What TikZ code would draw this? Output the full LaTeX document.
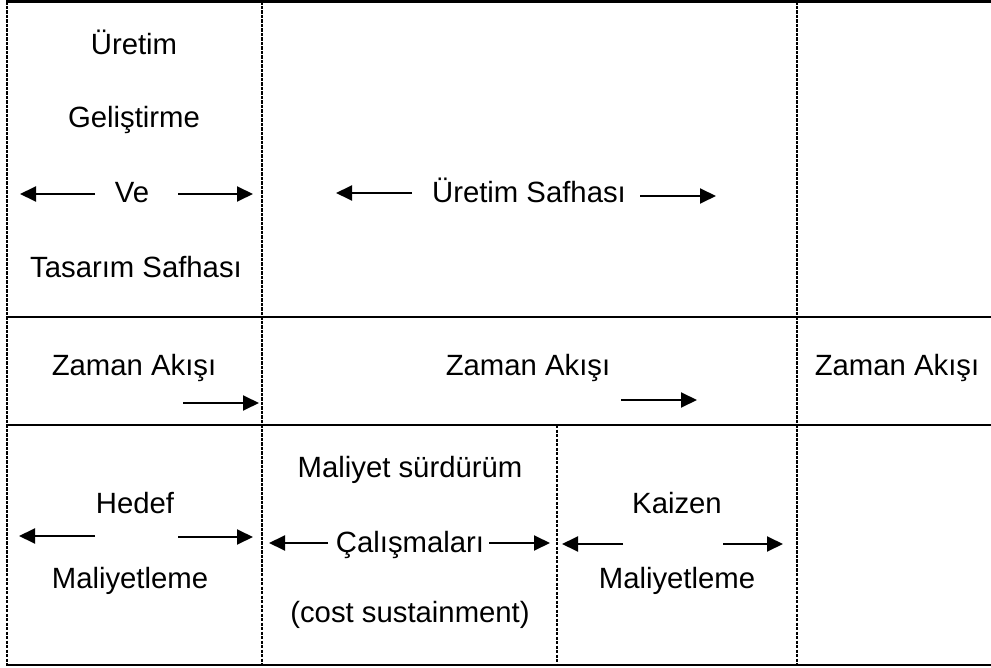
\documentclass[tikz,border=0pt]{standalone}
\usepackage{fontspec}
\setmainfont{Liberation Sans}
\usetikzlibrary{arrows.meta}

\tikzset{
  lbl/.style={anchor=base, inner sep=0pt, font=\fontsize{29.3}{35}\selectfont},
  rule/.style={line width=2.5pt, line cap=rect},
  dashrule/.style={line width=1.7pt, dash pattern=on 3.4pt off 1.1pt},
  dashrulethick/.style={line width=2.3pt, dash pattern=on 3.4pt off 1.1pt},
  arr/.style={line width=1.9pt, -{Triangle[length=16pt,width=15pt]}}
}

\begin{document}
\begin{tikzpicture}[x=1pt,y=-1pt]
\useasboundingbox (0,0) rectangle (991,668);

% grid corners
\coordinate (tl) at (7,1.5);   \coordinate (tr) at (991,1.5);
\coordinate (m1l) at (7,317);  \coordinate (m1r) at (991,317);
\coordinate (m2l) at (7,425);  \coordinate (m2r) at (991,425);
\coordinate (bl) at (7,665);   \coordinate (br) at (991,665);
\coordinate (c1t) at (262,1.5); \coordinate (c1b) at (262,665);
\coordinate (c3t) at (797,1.5); \coordinate (c3b) at (797,665);
\coordinate (c2t) at (557,425); \coordinate (c2b) at (557,665);

% solid row rules
\draw[rule] (tl) -- (tr);
\draw[rule] (m1l) -- (m1r);
\draw[rule] (m2l) -- (m2r);
\draw[rule] (bl) -- (br);

% dashed column rules
\draw[dashrule] (tl) -- (bl);
\draw[dashrule] (c1t) -- (c1b);
\draw[dashrule] (c2t) -- (c2b);
\draw[dashrulethick] (c3t) -- (c3b);

% row 1: phases
\node[lbl] (uretim)   at (134,55)  {Üretim};
\node[lbl] (gelis)    at (134,128) {Geliştirme};
\node[lbl] (ve)       at (132,203) {Ve};
\node[lbl] (tasarim)  at (136,278) {Tasarım Safhası};
\node[lbl] (usafha)   at (529,203) {Üretim Safhası};

\coordinate (ve-ls) at (95,194);  \coordinate (ve-le) at (20,194);
\coordinate (ve-rs) at (178,194); \coordinate (ve-re) at (253,194);
\draw[arr] (ve-ls) -- (ve-le);
\draw[arr] (ve-rs) -- (ve-re);

\coordinate (us-ls) at (412,193); \coordinate (us-le) at (336,193);
\coordinate (us-rs) at (640,196); \coordinate (us-re) at (716,196);
\draw[arr] (us-ls) -- (us-le);
\draw[arr] (us-rs) -- (us-re);

% row 2: time flow
\node[lbl] (zaman1) at (134,376) {Zaman Akışı};
\node[lbl] (zaman2) at (528,376) {Zaman Akışı};
\node[lbl] (zaman3) at (897,376) {Zaman Akışı};

\coordinate (z1s) at (183,403); \coordinate (z1e) at (259,403);
\coordinate (z2s) at (621,400); \coordinate (z2e) at (697,400);
\draw[arr] (z1s) -- (z1e);
\draw[arr] (z2s) -- (z2e);

% row 3: costing methods
\node[lbl] (hedef)   at (135,513) {Hedef};
\node[lbl] (hmal)    at (130,588) {Maliyetleme};
\node[lbl] (msur)    at (410,477) {Maliyet sürdürüm};
\node[lbl] (calis)   at (410,552) {Çalışmaları};
\node[lbl] (cost)    at (410,622) {(cost sustainment)};
\node[lbl] (kaizen)  at (677,513) {Kaizen};
\node[lbl] (kmal)    at (677,588) {Maliyetleme};

\coordinate (h-ls) at (95,536);  \coordinate (h-le) at (19,536);
\coordinate (h-rs) at (178,537); \coordinate (h-re) at (253,537);
\draw[arr] (h-ls) -- (h-le);
\draw[arr] (h-rs) -- (h-re);

\coordinate (c-ls) at (328,543); \coordinate (c-le) at (269,543);
\coordinate (c-rs) at (489,543); \coordinate (c-re) at (550,543);
\draw[arr] (c-ls) -- (c-le);
\draw[arr] (c-rs) -- (c-re);

\coordinate (k-ls) at (623,544); \coordinate (k-le) at (562,544);
\coordinate (k-rs) at (723,544); \coordinate (k-re) at (783,544);
\draw[arr] (k-ls) -- (k-le);
\draw[arr] (k-rs) -- (k-re);
\end{tikzpicture}
\end{document}
